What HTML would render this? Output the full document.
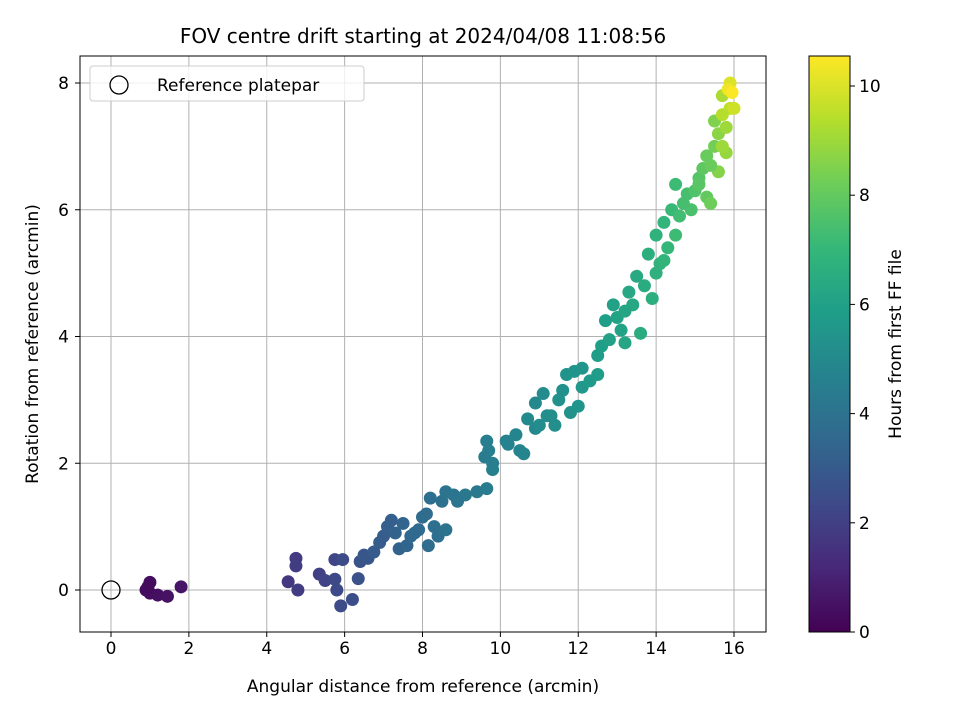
<!DOCTYPE html>
<html><head><meta charset="utf-8">
<style>body{margin:0;background:#fff}svg{display:block;font-family:"DejaVu Sans","Liberation Sans",sans-serif}</style>
</head><body>
<svg id="chart" width="960" height="720"></svg>
<script>
const xs=[0.9,1,1,1.2,1.45,1.8,0.95,4.55,4.75,4.75,4.8,5.35,5.5,5.75,5.75,5.8,5.95,5.9,6.2,6.35,6.4,6.5,6.6,6.75,6.9,7,7.1,7.2,7.3,7.4,7.5,7.6,7.7,7.9,8,8.1,8.15,8.2,8.3,8.4,8.5,8.6,8.6,8.8,9.1,9.4,9.65,9.6,9.65,9.7,9.8,9.8,10.15,10.2,10.5,10.6,10.7,10.9,10.9,11.1,11,11.2,11.4,11.5,11.6,11.7,11.8,11.9,12,12.1,12.1,12.5,12.5,12.6,12.7,12.8,12.9,13,13.1,13.2,13.3,13.4,13.5,13.6,13.7,13.8,13.9,14,14,14.1,14.2,14.3,14.4,14.5,14.5,14.6,14.8,14.9,15,15.1,15.2,15.3,15.3,15.4,15.5,15.5,15.6,15.6,15.7,15.8,15.8,15.9,15.9,16,15.7,15.85,15.7,15.95,7.8,8.9,10.4,11.3,12.3,13.2,14.2,14.7,15.1,15.4];
const ys=[0,0.12,-0.05,-0.08,-0.1,0.05,0.05,0.13,0.5,0.38,0,0.25,0.15,0.48,0.17,0,0.48,-0.25,-0.15,0.18,0.45,0.55,0.5,0.6,0.75,0.85,1.0,1.1,0.9,0.65,1.05,0.7,0.85,0.95,1.15,1.2,0.7,1.45,1.0,0.85,1.4,1.55,0.95,1.5,1.5,1.55,1.6,2.1,2.35,2.2,2.0,1.9,2.35,2.3,2.2,2.15,2.7,2.55,2.95,3.1,2.6,2.75,2.6,3.0,3.15,3.4,2.8,3.45,2.9,3.5,3.2,3.4,3.7,3.85,4.25,3.95,4.5,4.3,4.1,3.9,4.7,4.5,4.95,4.05,4.8,5.3,4.6,5.0,5.6,5.15,5.8,5.4,6.0,6.4,5.6,5.9,6.25,6.0,6.3,6.5,6.65,6.2,6.85,6.1,7.0,7.4,7.2,6.6,7.8,7.3,6.9,7.6,8.0,7.6,7.5,7.9,7.0,7.85,0.9,1.4,2.45,2.75,3.3,4.4,5.2,6.1,6.4,6.7];
const hours=[0.3,0.35,0.4,0.45,0.5,0.6,0.3,1.7,1.8,1.85,1.9,2.0,2.1,2.2,2.3,2.3,2.4,2.4,2.5,2.6,2.7,2.8,2.8,3.0,3.1,3.1,3.2,3.2,3.3,3.3,3.4,3.4,3.5,3.6,3.7,3.7,3.7,3.8,3.8,3.8,3.9,4.0,4.0,4.1,4.2,4.3,4.4,4.4,4.5,4.5,4.5,4.55,4.7,4.7,4.8,4.8,5.0,5.0,5.0,5.1,5.1,5.2,5.2,5.3,5.3,5.4,5.4,5.5,5.5,5.5,5.6,5.8,5.8,5.9,5.9,6.0,6.0,6.1,6.1,6.2,6.3,6.3,6.4,6.5,6.5,6.6,6.6,6.7,6.8,6.8,6.9,7.0,7.1,7.2,7.2,7.3,7.4,7.5,7.6,7.7,7.9,8.0,8.1,8.2,8.3,8.5,8.7,8.6,9.2,9.0,8.9,9.5,10.0,9.8,9.4,10.3,9.0,10.5,3.6,4.1,4.8,5.2,5.7,6.2,6.9,7.4,7.8,8.1];
const xTicks=[0,2,4,6,8,10,12,14,16];
const yTicks=[0,2,4,6,8];
const cTicks=[0,2,4,6,8,10];
const L=80,R=766,T=56,B=632;
const X=v=>111+(v*623/16), Y=v=>590-v*63.375;
const C=v=>632-v*54.6;
const vir=[[68,1,84],[72,40,120],[62,74,137],[49,104,142],[38,130,142],[31,158,137],[53,183,121],[109,205,89],[180,222,44],[253,231,37]];
function col(t){t=Math.max(0,Math.min(1,t))*9;const i=Math.min(8,Math.floor(t)),f=t-i,a=vir[i],b=vir[i+1];return `rgb(${a.map((v,k)=>Math.round(v+(b[k]-v)*f)).join(',')})`;}
const s=document.getElementById('chart');const NS='http://www.w3.org/2000/svg';
function el(tag,at,txt){const e=document.createElementNS(NS,tag);for(const k in at)e.setAttribute(k,at[k]);if(txt!==undefined)e.textContent=txt;s.appendChild(e);return e;}
let e;
xTicks.forEach(v=>{e=el('line',{x1:X(v),x2:X(v),y1:T,y2:B,stroke:'#b0b0b0','stroke-width':1});


e=el('line',{x1:X(v),x2:X(v),y1:B,y2:B+5,stroke:'#000'});


e=el('text',{x:X(v),y:B+22,'text-anchor':'middle','font-size':17},String(v));

});
yTicks.forEach(v=>{e=el('line',{x1:L,x2:R,y1:Y(v),y2:Y(v),stroke:'#b0b0b0','stroke-width':1});


e=el('line',{x1:L-5,x2:L,y1:Y(v),y2:Y(v),stroke:'#000'});


e=el('text',{x:L-11,y:Y(v)+6,'text-anchor':'end','font-size':17},String(v));

});
xs.forEach((x,i)=>{e=el('circle',{cx:X(x),cy:Y(ys[i]),r:6.5,fill:col(hours[i]/10.55)});

});
e=el('circle',{cx:X(0),cy:Y(0),r:9,fill:'none',stroke:'#000','stroke-width':1.3});


e=el('rect',{x:L,y:T,width:R-L,height:B-T,fill:'none',stroke:'#000','stroke-width':1});


e=el('rect',{x:90,y:66,width:274,height:35,rx:3,fill:'#fff','fill-opacity':0.8,stroke:'#ccc'});


e=el('circle',{cx:119,cy:85,r:9,fill:'none',stroke:'#000','stroke-width':1.3});


e=el('text',{x:157,y:91,'font-size':17},'Reference platepar');


e=el('text',{x:423,y:43,'text-anchor':'middle','font-size':20},'FOV centre drift starting at 2024/04/08 11:08:56');


e=el('text',{x:423,y:692,'text-anchor':'middle','font-size':17},'Angular distance from reference (arcmin)');


e=el('text',{x:38,y:344,'text-anchor':'middle','font-size':17,transform:'rotate(-90 38 344)'},'Rotation from reference (arcmin)');


const g=document.createElementNS(NS,'defs');g.innerHTML='<linearGradient id="vg" x1="0" y1="1" x2="0" y2="0">'+vir.map((c,i)=>`<stop offset="${i/9}" stop-color="rgb(${c})"/>`).join('')+'</linearGradient>';s.appendChild(g);
e=el('rect',{x:809,y:T,width:41,height:B-T,fill:'url(#vg)',stroke:'#000','stroke-width':1});


cTicks.forEach(v=>{e=el('line',{x1:850,x2:855,y1:C(v),y2:C(v),stroke:'#000'});


e=el('text',{x:859,y:C(v)+6,'font-size':17},String(v));

});
e=el('text',{x:901,y:344,'text-anchor':'middle','font-size':17,transform:'rotate(-90 901 344)'},'Hours from first FF file');


</script>
</body></html>
